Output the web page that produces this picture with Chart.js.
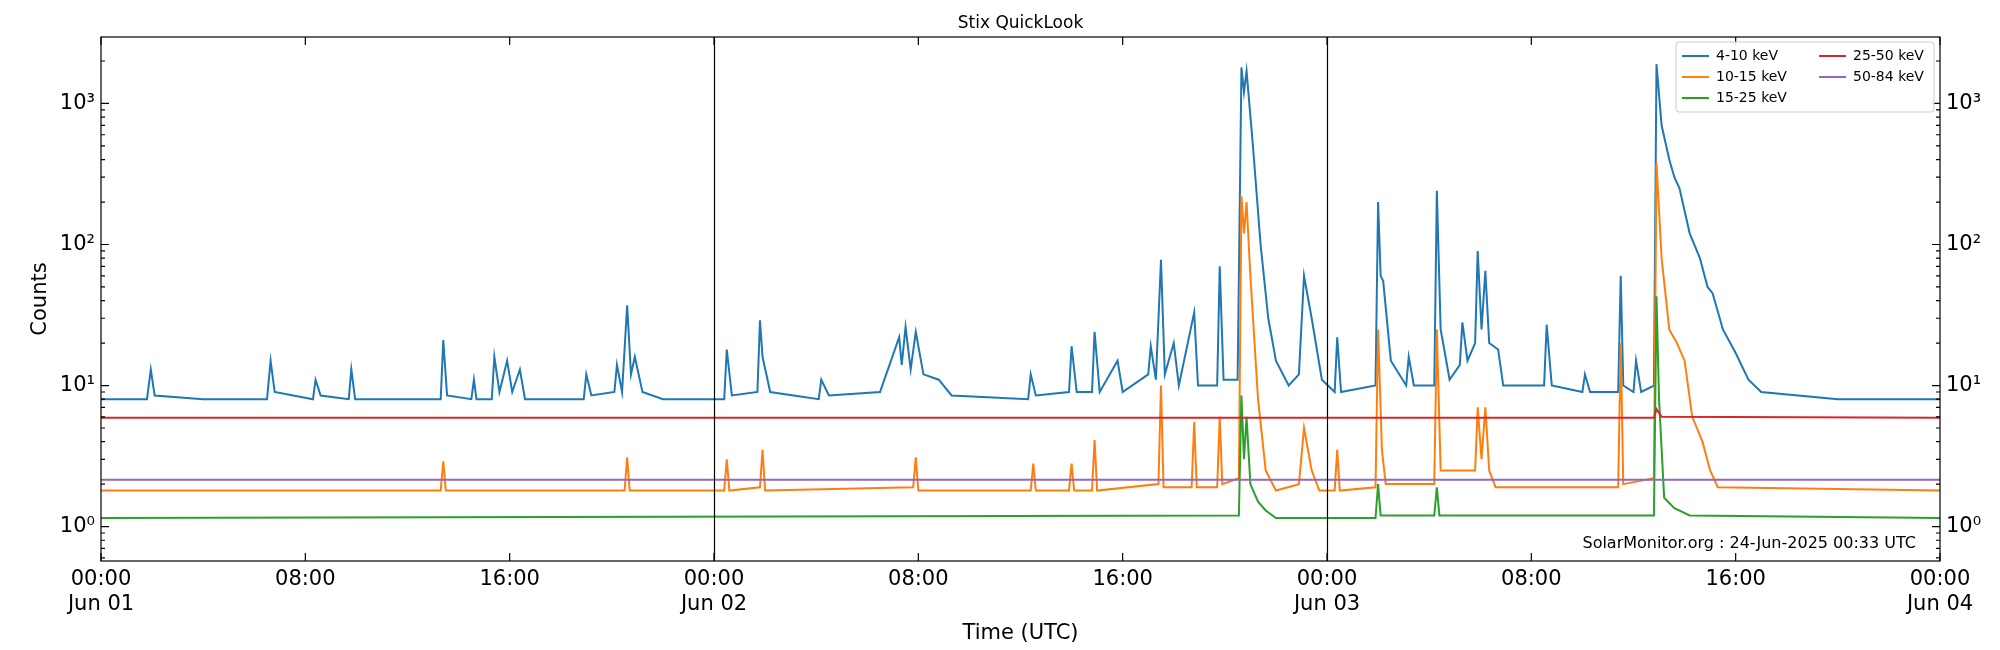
<!DOCTYPE html>
<html lang="en">
<head>
<meta charset="UTF-8">
<title>Stix QuickLook</title>
<style>
  html, body { margin: 0; padding: 0; background: #fff; }
  #wrap { width: 2000px; height: 650px; }
</style>
</head>
<body>
<div id="wrap"><canvas id="stixChart"></canvas></div>
<script src="https://cdn.jsdelivr.net/npm/chart.js"></script>
<script>
// hours since 2025-06-01 00:00 UTC
const xTickLabels = [['00:00', 'Jun 01'], '08:00', '16:00', ['00:00', 'Jun 02'], '08:00', '16:00', ['00:00', 'Jun 03'], '08:00', '16:00', ['00:00', 'Jun 04']];
const yTickLabels = ['10⁰', '10¹', '10²', '10³'];
const seriesLabels = ['4-10 keV', '10-15 keV', '15-25 keV', '25-50 keV', '50-84 keV'];
const seriesColors = ['#1f77b4', '#ff7f0e', '#2ca02c', '#d62728', '#9467bd'];

const blueT = [0, 1.8, 1.95, 2.1, 4, 6.5, 6.64, 6.8, 8.3, 8.4, 8.6, 9.7, 9.8, 9.95, 13.3, 13.4, 13.55, 14.5, 14.6, 14.7, 15.3, 15.4, 15.6, 15.9, 16.1, 16.4, 16.6, 18.9, 19.0, 19.2, 20.1, 20.2, 20.4, 20.6, 20.75, 20.9, 21.2, 22, 24.4, 24.5, 24.7, 25.7, 25.8, 25.9, 26.2, 28.1, 28.2, 28.5, 30.5, 31.25, 31.35, 31.5, 31.7, 31.9, 32.2, 32.8, 33.3, 36.3, 36.4, 36.6, 37.9, 38.0, 38.2, 38.8, 38.9, 39.1, 39.8, 40.0, 41.0, 41.1, 41.3, 41.5, 41.65, 42.0, 42.2, 42.8, 42.95, 43.7, 43.8, 43.95, 44.5, 44.65, 44.75, 44.85, 45.1, 45.4, 45.7, 46.0, 46.5, 46.9, 47.1, 47.4, 47.8, 48.3, 48.4, 48.55, 49.9, 50.0, 50.1, 50.2, 50.5, 51.1, 51.2, 51.4, 52.2, 52.3, 52.45, 52.8, 53.2, 53.3, 53.5, 53.8, 53.9, 54.05, 54.2, 54.35, 54.7, 54.9, 56.5, 56.6, 56.8, 58.0, 58.1, 58.3, 59.4, 59.5, 59.6, 60.0, 60.1, 60.3, 60.8, 60.9, 61.1, 61.4, 61.6, 61.8, 62.2, 62.6, 62.9, 63.1, 63.5, 64, 64.5, 65, 68, 72];
const blueV = [8, 8, 13, 8.5, 8, 8, 15, 9, 8, 11, 8.5, 8, 13, 8, 8, 21, 8.5, 8, 11, 8, 8, 16, 9, 15, 9, 13, 8, 8, 12, 8.5, 9, 14, 9, 37, 12, 16, 9, 8, 8, 18, 8.5, 9, 29, 16, 9, 8, 11, 8.5, 9, 22, 14, 26, 13, 24, 12, 11, 8.5, 8, 12, 8.5, 9, 19, 9, 9, 24, 9, 15, 9, 12, 19, 11, 78, 12, 20, 10, 33, 10, 10, 70, 11, 11, 1800, 1200, 1700, 500, 100, 30, 15, 10, 12, 60, 30, 11, 9, 22, 9, 10, 200, 60, 55, 15, 10, 16, 10, 10, 240, 25, 11, 14, 28, 15, 20, 90, 25, 65, 20, 18, 10, 10, 27, 10, 9, 12, 9, 9, 60, 10, 9, 15, 9, 10, 1900, 700, 400, 300, 250, 120, 80, 50, 45, 25, 17, 11, 9, 8, 8];

const orangeT = [0, 13.3, 13.4, 13.5, 20.5, 20.6, 20.7, 24.4, 24.5, 24.6, 25.8, 25.9, 26.0, 31.8, 31.9, 32, 36.4, 36.5, 36.6, 37.9, 38.0, 38.1, 38.8, 38.9, 39.0, 41.4, 41.5, 41.6, 42.7, 42.8, 42.9, 43.7, 43.8, 43.9, 44.55, 44.65, 44.75, 44.85, 45.0, 45.3, 45.6, 46.0, 46.9, 47.1, 47.4, 47.7, 48.3, 48.4, 48.5, 49.9, 50.0, 50.15, 50.3, 52.2, 52.3, 52.45, 53.8, 53.9, 54.05, 54.2, 54.35, 54.6, 59.4, 59.5, 59.6, 60.8, 60.9, 61.1, 61.4, 61.7, 62, 62.3, 62.7, 63, 63.3, 72];
const orangeV = [1.8, 1.8, 2.9, 1.8, 1.8, 3.1, 1.8, 1.8, 3.0, 1.8, 1.9, 3.5, 1.8, 1.9, 3.1, 1.8, 1.8, 2.8, 1.8, 1.8, 2.8, 1.8, 1.8, 4.1, 1.8, 2, 10, 1.9, 1.9, 5.5, 1.9, 1.9, 6, 2, 2.2, 220, 120, 200, 60, 8, 2.5, 1.8, 2, 5, 2.5, 1.8, 1.8, 3.5, 1.8, 1.9, 25, 3.5, 2, 2, 25, 2.5, 2.5, 7, 3, 7, 2.5, 1.9, 1.9, 20, 2, 2.2, 380, 80, 25, 20, 15, 6, 4, 2.5, 1.9, 1.8];

const greenT = [0, 44.55, 44.65, 44.75, 44.85, 45.0, 45.3, 45.6, 46, 49.9, 50.0, 50.1, 52.2, 52.3, 52.4, 60.8, 60.9, 61.0, 61.2, 61.6, 62.2, 72];
const greenV = [1.15, 1.2, 8.5, 3, 6, 2, 1.5, 1.3, 1.15, 1.15, 2, 1.2, 1.2, 1.9, 1.2, 1.2, 43, 8, 1.6, 1.35, 1.2, 1.15];

const redT = [0, 60.8, 60.9, 61.1, 72];
const redV = [5.9, 5.9, 6.8, 6.0, 5.9];

const purpleT = [0, 72];
const purpleV = [2.15, 2.15];

function toPoints(ts, vs) { return ts.map((t, i) => ({ x: t, y: vs[i] })); }
const allSeries = [[blueT, blueV], [orangeT, orangeV], [greenT, greenV], [redT, redV], [purpleT, purpleV]];

const Y_MIN = 0.57, Y_MAX = 2960;

const decor = {
  id: 'decor',
  afterDatasetsDraw(chart) {
    const { ctx, chartArea: a, scales } = chart;
    const x = scales.x, y = scales.y;
    ctx.save();
    ctx.strokeStyle = '#000';
    ctx.lineWidth = 1.2;
    // day separators
    [24, 48].forEach(h => {
      const px = Math.round(x.getPixelForValue(h)) + 0.5;
      ctx.beginPath(); ctx.moveTo(px, a.top); ctx.lineTo(px, a.bottom); ctx.stroke();
    });
    // frame
    ctx.strokeRect(a.left, a.top, a.right - a.left, a.bottom - a.top);
    // inward ticks
    for (let h = 0; h <= 72; h += 8) {
      const px = x.getPixelForValue(h);
      ctx.beginPath();
      ctx.moveTo(px, a.bottom); ctx.lineTo(px, a.bottom - 8);
      ctx.moveTo(px, a.top); ctx.lineTo(px, a.top + 8);
      ctx.stroke();
    }
    for (let d = 0.1; d <= 1000; d *= 10) {
      for (let m = 1; m <= 9; m++) {
        const v = d * m;
        if (v < Y_MIN || v > Y_MAX) continue;
        const py = y.getPixelForValue(v);
        const len = m === 1 ? 8 : 4;
        ctx.beginPath();
        ctx.moveTo(a.left, py); ctx.lineTo(a.left + len, py);
        ctx.moveTo(a.right, py); ctx.lineTo(a.right - len, py);
        ctx.stroke();
      }
    }
    // title
    ctx.fillStyle = '#000';
    ctx.font = '17px "DejaVu Sans"';
    ctx.textAlign = 'center';
    ctx.textBaseline = 'bottom';
    ctx.fillText('Stix QuickLook', (a.left + a.right) / 2, a.top - 5);
    // watermark
    ctx.font = '16px "DejaVu Sans"';
    ctx.textAlign = 'right';
    ctx.textBaseline = 'alphabetic';
    ctx.fillText('SolarMonitor.org : 24-Jun-2025 00:33 UTC', a.right - 24, a.bottom - 13);
    // legend
    const lx = a.right - 264, ly = a.top + 5, lw = 258, lh = 70;
    ctx.fillStyle = 'rgba(255,255,255,0.85)';
    ctx.strokeStyle = '#ccc';
    ctx.lineWidth = 1;
    ctx.beginPath(); ctx.roundRect(lx, ly, lw, lh, 3); ctx.fill(); ctx.stroke();
    ctx.font = '14px "DejaVu Sans"';
    ctx.textAlign = 'left';
    ctx.textBaseline = 'middle';
    seriesLabels.forEach((lab, i) => {
      const col = i < 3 ? 0 : 1, row = i < 3 ? i : i - 3;
      const sx = lx + 6 + col * 137, sy = ly + 14 + row * 21;
      ctx.strokeStyle = seriesColors[i];
      ctx.lineWidth = 2;
      ctx.beginPath(); ctx.moveTo(sx, sy); ctx.lineTo(sx + 27, sy); ctx.stroke();
      ctx.fillStyle = '#000';
      ctx.fillText(lab, sx + 34, sy);
    });
    ctx.restore();
  }
};

const decadeTicks = scale => { scale.ticks = [1, 10, 100, 1000].map(v => ({ value: v })); };

new Chart(document.getElementById('stixChart'), {
  type: 'line',
  data: {
    datasets: allSeries.map((s, i) => ({
      label: seriesLabels[i],
      data: toPoints(s[0], s[1]),
      borderColor: seriesColors[i],
      borderWidth: 2,
      pointRadius: 0,
      tension: 0,
      order: 4 - i,
      yAxisID: 'y'
    }))
  },
  options: {
    responsive: true,
    maintainAspectRatio: false,
    animation: false,
    layout: { padding: { top: 37, right: 0, left: 0, bottom: 0 } },
    plugins: { legend: { display: false }, title: { display: false }, tooltip: { enabled: false } },
    scales: {
      x: {
        type: 'linear', min: 0, max: 72,
        ticks: {
          stepSize: 8, color: '#000', font: { size: 21, family: 'DejaVu Sans' }, padding: 6, maxRotation: 0,
          callback: v => xTickLabels[Math.round(v / 8)]
        },
        grid: { display: false, drawTicks: false },
        border: { display: false },
        title: { display: true, text: 'Time (UTC)', color: '#000', font: { size: 21, family: 'DejaVu Sans' }, padding: { top: 2 } },
        afterFit: s => { s.height = 89; }
      },
      y: {
        type: 'logarithmic', min: Y_MIN, max: Y_MAX, position: 'left',
        afterBuildTicks: decadeTicks,
        ticks: { color: '#000', font: { size: 21, family: 'DejaVu Sans' }, padding: 6, callback: (v) => yTickLabels[Math.round(Math.log10(v))] },
        grid: { display: false, drawTicks: false },
        border: { display: false },
        title: { display: true, text: 'Counts', color: '#000', font: { size: 21, family: 'DejaVu Sans' }, padding: { top: 28, bottom: 0 } },
        afterFit: s => { s.width = 101; }
      },
      y2: {
        type: 'logarithmic', min: Y_MIN, max: Y_MAX, position: 'right',
        afterBuildTicks: decadeTicks,
        ticks: { color: '#000', font: { size: 21, family: 'DejaVu Sans' }, padding: 6, callback: (v) => yTickLabels[Math.round(Math.log10(v))] },
        grid: { display: false, drawTicks: false },
        border: { display: false },
        afterFit: s => { s.width = 60; }
      }
    }
  },
  plugins: [decor]
});
</script>
</body>
</html>
